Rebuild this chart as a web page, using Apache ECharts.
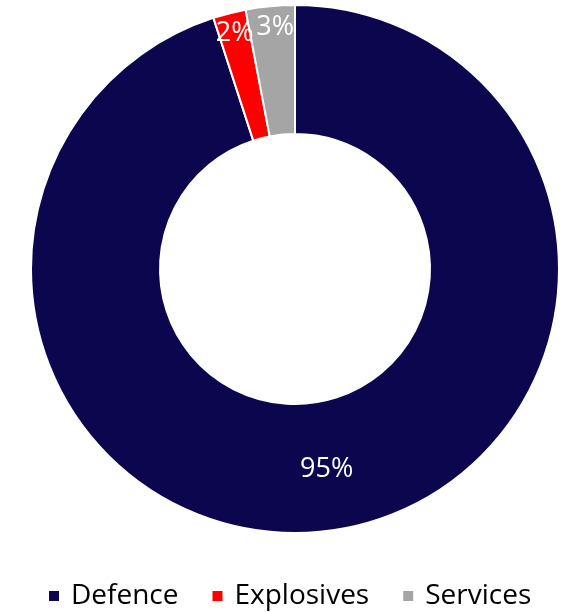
<!DOCTYPE html>
<html>
<head>
<meta charset="utf-8">
<script src="https://cdn.jsdelivr.net/npm/echarts@6/dist/echarts.min.js"></script>
<style>html,body{margin:0;padding:0;background:#fff}#c{width:569px;height:612px}</style>
</head>
<body>
<div id="c"></div>
<script>
const categories = ['Defence', 'Explosives', 'Services'];
const values = [95, 2, 3];
const colors = ['#0c064e', '#ff0000', '#a5a5a5'];
const bigLabelCats = ['Defence'];

const chart = echarts.init(document.getElementById('c'));
const font = '"Open Sans", sans-serif';
const data = categories.map((c, i) => ({ name: c, value: values[i], itemStyle: { color: colors[i] } }));

chart.setOption({
  animation: false,
  legend: {
    bottom: -3,
    left: 42,
    icon: 'rect',
    itemWidth: 12,
    itemHeight: 12,
    itemGap: 32,
    textStyle: { fontFamily: font, fontSize: 28, color: '#000', padding: [0, 0, 0, 6] },
    data: categories
  },
  series: [
    {
      type: 'pie',
      center: [295, 269],
      radius: [135, 264],
      startAngle: 90,
      clockwise: true,
      avoidLabelOverlap: false,
      labelLayout: { hideOverlap: false },
      itemStyle: { borderColor: '#fff', borderWidth: 2 },
      label: {
        show: true,
        position: 'inside',
        formatter: p => bigLabelCats.includes(p.name) ? p.value + '%' : '',
        color: '#fff',
        fontFamily: font,
        fontSize: 27
      },
      labelLine: { show: false },
      emphasis: { disabled: true },
      data: data
    },
    {
      type: 'pie',
      center: [295, 269],
      radius: [216, 264],
      startAngle: 90,
      clockwise: true,
      silent: true,
      avoidLabelOverlap: false,
      labelLayout: { hideOverlap: false },
      itemStyle: { color: 'rgba(0,0,0,0)', borderWidth: 0 },
      label: {
        show: true,
        position: 'inside',
        formatter: p => bigLabelCats.includes(p.name) ? '' : p.value + '%',
        color: '#fff',
        fontFamily: font,
        fontSize: 27
      },
      labelLine: { show: false },
      emphasis: { disabled: true },
      data: categories.map((c, i) => ({
        name: c,
        value: values[i],
        label: c === 'Services' ? { padding: [12, 0, 0, 6] } : {}
      }))
    }
  ]
});
</script>
</body>
</html>
